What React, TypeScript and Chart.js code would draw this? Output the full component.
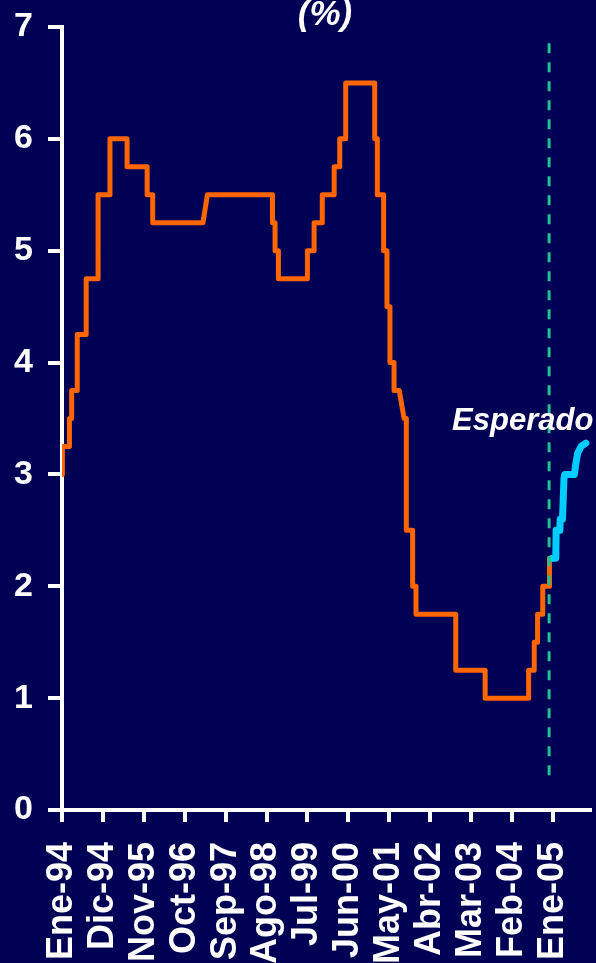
import React, { useEffect, useRef } from "react";
import { Chart, registerables } from "chart.js";

Chart.register(...registerables);

// x values are months elapsed since January 1994 (Ene-94 = 0)
const xTickLabels = ["Ene-94", "Dic-94", "Nov-95", "Oct-96", "Sep-97", "Ago-98", "Jul-99", "Jun-00", "May-01", "Abr-02", "Mar-03", "Feb-04", "Ene-05"];
const xTickStep = 11;
const xMin = 0;
const xMax = 142;
const yMin = 0;
const yMax = 7;

// Fed funds rate (%) — vertices of the observed path
const actualMonths = [0, 0.1, 2.0, 2.0, 2.6, 2.6, 4.1, 4.1, 6.5, 6.5, 9.7, 9.7, 12.9, 12.9, 17.5, 17.5, 22.9, 22.9, 24.4, 24.4, 37.9, 39.1, 56.6, 56.6, 57.3, 57.3, 58.2, 58.2, 66.0, 66.0, 67.8, 67.8, 70.0, 70.0, 73.2, 73.2, 74.7, 74.7, 76.3, 76.3, 84.1, 84.1, 84.8, 84.8, 86.5, 86.5, 87.4, 87.4, 88.2, 88.2, 89.3, 89.3, 90.7, 92.0, 92.6, 92.6, 94.3, 94.3, 95.2, 95.2, 105.9, 105.9, 113.8, 113.8, 125.5, 125.5, 127.0, 127.0, 127.9, 127.9, 129.3, 129.3, 131.1, 131.1, 131.8];
const actualRates = [3.0, 3.25, 3.25, 3.5, 3.5, 3.75, 3.75, 4.25, 4.25, 4.75, 4.75, 5.5, 5.5, 6.0, 6.0, 5.75, 5.75, 5.5, 5.5, 5.25, 5.25, 5.5, 5.5, 5.25, 5.25, 5.0, 5.0, 4.75, 4.75, 5.0, 5.0, 5.25, 5.25, 5.5, 5.5, 5.75, 5.75, 6.0, 6.0, 6.5, 6.5, 6.0, 6.0, 5.5, 5.5, 5.0, 5.0, 4.5, 4.5, 4.0, 4.0, 3.75, 3.75, 3.5, 3.5, 2.5, 2.5, 2.0, 2.0, 1.75, 1.75, 1.25, 1.25, 1.0, 1.0, 1.25, 1.25, 1.5, 1.5, 1.75, 1.75, 2.0, 2.0, 2.25, 2.25];

// Expected path ("Esperado")
const expectedMonths = [131.9, 132.8, 132.9, 133.9, 134.0, 134.6, 135.0, 135.2, 137.8, 138.2, 138.7, 139.6, 140.9];
const expectedRates = [2.25, 2.25, 2.5, 2.5, 2.6, 2.6, 2.96, 3.0, 3.0, 3.1, 3.19, 3.25, 3.28];

// Vertical dashed marker
const markerMonths = [131.0, 131.0];
const markerRates = [0.31, 6.92];

const titleText = "(%)";
const expectedLabel = "Esperado";
const expectedLabelMonth = 104.9;
const expectedLabelRate = 3.4;

const FONT = "'Liberation Sans', Arial, Helvetica, sans-serif";
const BG = "#000054";

const toPoints = (xs: number[], ys: number[]) => xs.map((x, i) => ({ x, y: ys[i] }));

const textPlugin = {
  id: "textPlugin",
  afterDraw(chart: any) {
    const { ctx, scales } = chart;
    ctx.save();
    ctx.fillStyle = "#ffffff";
    ctx.font = `italic bold 35px ${FONT}`;
    ctx.textAlign = "center";
    ctx.textBaseline = "alphabetic";
    ctx.fillText(titleText, 325, 25);
    ctx.font = `italic bold 31px ${FONT}`;
    ctx.textAlign = "left";
    ctx.fillText(
      expectedLabel,
      scales.x.getPixelForValue(expectedLabelMonth),
      scales.y.getPixelForValue(expectedLabelRate)
    );
    ctx.restore();
  },
};

export default function App() {
  const ref = useRef<HTMLCanvasElement>(null);

  useEffect(() => {
    document.body.style.margin = "0";
    document.body.style.background = BG;
    const canvas = ref.current!;
    const chart = new Chart(canvas, {
      type: "line",
      data: {
        datasets: [
          {
            data: toPoints(markerMonths, markerRates),
            borderColor: "#1fc290",
            borderWidth: 3,
            borderDash: [10, 9],
            pointRadius: 0,
            order: 0,
          },
          {
            data: toPoints(expectedMonths, expectedRates),
            borderColor: "#00ccff",
            borderWidth: 7,
            pointRadius: 0,
            borderJoinStyle: "round",
            borderCapStyle: "round",
            order: 1,
          },
          {
            data: toPoints(actualMonths, actualRates),
            borderColor: "#ff6600",
            borderWidth: 5,
            pointRadius: 0,
            borderJoinStyle: "round",
            borderCapStyle: "round",
            order: 2,
          },
        ],
      },
      options: {
        animation: false,
        responsive: false,
        events: [],
        layout: { padding: { top: 27, right: 6, left: 0, bottom: 0 } },
        plugins: { legend: { display: false }, tooltip: { enabled: false }, title: { display: false } },
        scales: {
          x: {
            type: "linear",
            min: xMin,
            max: xMax,
            afterBuildTicks: (scale: any) => {
              scale.ticks = xTickLabels.map((_, i) => ({ value: i * xTickStep }));
            },
            afterFit: (scale: any) => {
              scale.height = 153;
              scale.paddingLeft = 0;
              scale.paddingRight = 0;
              scale.paddingTop = 0;
              scale.paddingBottom = 0;
            },
            ticks: {
              autoSkip: false,
              maxRotation: 90,
              minRotation: 90,
              padding: 20,
              color: "#ffffff",
              font: { family: FONT, size: 36, weight: "bold" },
              callback: (v: any) => xTickLabels[Math.round(Number(v) / xTickStep)] ?? "",
            },
            grid: {
              drawOnChartArea: false,
              drawTicks: true,
              tickLength: 12,
              color: "#ffffff",
              lineWidth: 4,
            },
            border: { display: true, color: "#ffffff", width: 4 },
          },
          y: {
            min: yMin,
            max: yMax,
            afterFit: (scale: any) => {
              scale.width = 62;
              scale.paddingLeft = 0;
              scale.paddingRight = 0;
              scale.paddingTop = 0;
              scale.paddingBottom = 0;
            },
            ticks: {
              stepSize: 1,
              padding: 15,
              color: "#ffffff",
              font: { family: FONT, size: 34, weight: "bold" },
            },
            grid: {
              drawOnChartArea: false,
              drawTicks: true,
              tickLength: 14,
              color: "#ffffff",
              lineWidth: 4,
            },
            border: { display: true, color: "#ffffff", width: 4 },
          },
        },
      },
      plugins: [textPlugin],
    } as any);
    return () => chart.destroy();
  }, []);

  return (
    <div style={{ width: 596, height: 963, background: BG, overflow: "hidden" }}>
      <canvas ref={ref} width={596} height={963} style={{ display: "block" }} />
    </div>
  );
}
